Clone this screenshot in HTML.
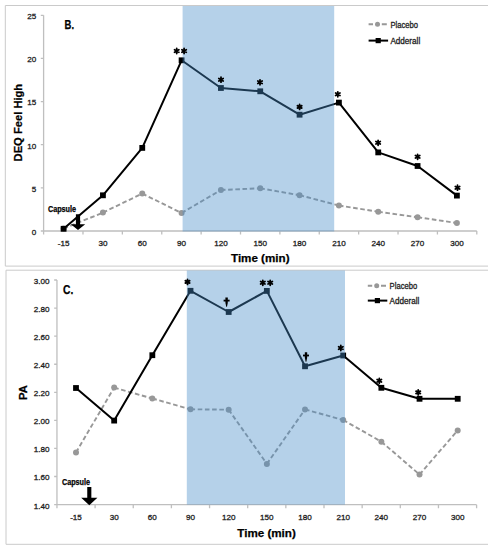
<!DOCTYPE html>
<html><head><meta charset="utf-8"><style>
html,body{margin:0;padding:0;background:#fff;}
svg{display:block;}
.t{font-family:"Liberation Sans",sans-serif;font-size:8.1px;fill:#1e1e1e;stroke:#1e1e1e;stroke-width:0.3px;}
.b{font-family:"Liberation Sans",sans-serif;font-weight:bold;fill:#000;stroke:#000;stroke-width:0.25px;}
</style></head><body>
<svg width="493" height="550" viewBox="0 0 493 550">
<rect width="493" height="550" fill="#fff"/>
<path d="M488,5.5L5.3,5.5L5.3,266.1L488,266.1" fill="none" stroke="#cacaca" stroke-width="1"/>
<path d="M43.6,15.3L43.6,231.0M40.80,15.30L43.6,15.30M40.80,58.44L43.6,58.44M40.80,101.58L43.6,101.58M40.80,144.72L43.6,144.72M40.80,187.86L43.6,187.86M40.80,231.00L43.6,231.00M43.6,231.0L476.8,231.0M43.60,231.0L43.60,234.5M82.98,231.0L82.98,234.5M122.36,231.0L122.36,234.5M161.75,231.0L161.75,234.5M201.13,231.0L201.13,234.5M240.51,231.0L240.51,234.5M279.89,231.0L279.89,234.5M319.27,231.0L319.27,234.5M358.65,231.0L358.65,234.5M398.04,231.0L398.04,234.5M437.42,231.0L437.42,234.5M476.80,231.0L476.80,234.5" fill="none" stroke="#bfbfbf" stroke-width="1.3"/>
<text x="36.3" y="19.20" text-anchor="end" class="t">25</text>
<text x="36.3" y="62.34" text-anchor="end" class="t">20</text>
<text x="36.3" y="105.48" text-anchor="end" class="t">15</text>
<text x="36.3" y="148.62" text-anchor="end" class="t">10</text>
<text x="36.3" y="191.76" text-anchor="end" class="t">5</text>
<text x="36.3" y="234.90" text-anchor="end" class="t">0</text>
<text x="63.60" y="246.0" text-anchor="middle" class="t">-15</text>
<text x="102.93" y="246.0" text-anchor="middle" class="t">30</text>
<text x="142.26" y="246.0" text-anchor="middle" class="t">60</text>
<text x="181.59" y="246.0" text-anchor="middle" class="t">90</text>
<text x="220.92" y="246.0" text-anchor="middle" class="t">120</text>
<text x="260.25" y="246.0" text-anchor="middle" class="t">150</text>
<text x="299.58" y="246.0" text-anchor="middle" class="t">180</text>
<text x="338.91" y="246.0" text-anchor="middle" class="t">210</text>
<text x="378.24" y="246.0" text-anchor="middle" class="t">240</text>
<text x="417.57" y="246.0" text-anchor="middle" class="t">270</text>
<text x="456.90" y="246.0" text-anchor="middle" class="t">300</text>
<path d="M63.60,228.60L102.93,212.60M102.93,212.60L142.26,193.60M142.26,193.60L181.59,213.00M181.59,213.00L220.92,190.00M220.92,190.00L260.25,188.30M260.25,188.30L299.58,195.20M299.58,195.20L338.91,205.50M338.91,205.50L378.24,211.70M378.24,211.70L417.57,217.20M417.57,217.20L456.90,223.00" fill="none" stroke="#989898" stroke-width="1.9" stroke-dasharray="4.6,2.6"/>
<circle cx="63.60" cy="228.60" r="3.0" fill="#989898"/>
<circle cx="102.93" cy="212.60" r="3.0" fill="#989898"/>
<circle cx="142.26" cy="193.60" r="3.0" fill="#989898"/>
<circle cx="181.59" cy="213.00" r="3.0" fill="#989898"/>
<circle cx="220.92" cy="190.00" r="3.0" fill="#989898"/>
<circle cx="260.25" cy="188.30" r="3.0" fill="#989898"/>
<circle cx="299.58" cy="195.20" r="3.0" fill="#989898"/>
<circle cx="338.91" cy="205.50" r="3.0" fill="#989898"/>
<circle cx="378.24" cy="211.70" r="3.0" fill="#989898"/>
<circle cx="417.57" cy="217.20" r="3.0" fill="#989898"/>
<circle cx="456.90" cy="223.00" r="3.0" fill="#989898"/>
<polyline points="63.60,228.80 102.93,195.30 142.26,147.90 181.59,60.30 220.92,88.00 260.25,91.30 299.58,114.70 338.91,102.60 378.24,152.40 417.57,166.00 456.90,195.60" fill="none" stroke="#000" stroke-width="2" stroke-linejoin="round"/>
<rect x="60.70" y="225.90" width="5.8" height="5.8" fill="#000"/>
<rect x="100.03" y="192.40" width="5.8" height="5.8" fill="#000"/>
<rect x="139.36" y="145.00" width="5.8" height="5.8" fill="#000"/>
<rect x="178.69" y="57.40" width="5.8" height="5.8" fill="#000"/>
<rect x="218.02" y="85.10" width="5.8" height="5.8" fill="#000"/>
<rect x="257.35" y="88.40" width="5.8" height="5.8" fill="#000"/>
<rect x="296.68" y="111.80" width="5.8" height="5.8" fill="#000"/>
<rect x="336.01" y="99.70" width="5.8" height="5.8" fill="#000"/>
<rect x="375.34" y="149.50" width="5.8" height="5.8" fill="#000"/>
<rect x="414.67" y="163.10" width="5.8" height="5.8" fill="#000"/>
<rect x="454.00" y="192.70" width="5.8" height="5.8" fill="#000"/>
<rect x="182.6" y="6.0" width="151.6" height="225.5" fill="rgba(70,140,200,0.40)"/>
<path d="M176.70,48.50L176.70,53.50M174.53,49.75L178.87,52.25M178.87,49.75L174.53,52.25" stroke="#000" stroke-width="1.8" stroke-linecap="round"/>
<path d="M184.10,48.50L184.10,53.50M181.93,49.75L186.27,52.25M186.27,49.75L181.93,52.25" stroke="#000" stroke-width="1.8" stroke-linecap="round"/>
<path d="M221.00,77.20L221.00,82.20M218.83,78.45L223.17,80.95M223.17,78.45L218.83,80.95" stroke="#000" stroke-width="1.8" stroke-linecap="round"/>
<path d="M260.00,79.80L260.00,84.80M257.83,81.05L262.17,83.55M262.17,81.05L257.83,83.55" stroke="#000" stroke-width="1.8" stroke-linecap="round"/>
<path d="M299.60,104.40L299.60,109.40M297.43,105.65L301.77,108.15M301.77,105.65L297.43,108.15" stroke="#000" stroke-width="1.8" stroke-linecap="round"/>
<path d="M337.80,91.80L337.80,96.80M335.63,93.05L339.97,95.55M339.97,93.05L335.63,95.55" stroke="#000" stroke-width="1.8" stroke-linecap="round"/>
<path d="M378.10,140.30L378.10,145.30M375.93,141.55L380.27,144.05M380.27,141.55L375.93,144.05" stroke="#000" stroke-width="1.8" stroke-linecap="round"/>
<path d="M417.60,154.30L417.60,159.30M415.43,155.55L419.77,158.05M419.77,155.55L415.43,158.05" stroke="#000" stroke-width="1.8" stroke-linecap="round"/>
<path d="M457.50,185.20L457.50,190.20M455.33,186.45L459.67,188.95M459.67,186.45L455.33,188.95" stroke="#000" stroke-width="1.8" stroke-linecap="round"/>
<path d="M75.90,214.2L80.10,214.2L80.10,224.2L85.20,224.2L78.00,230.0L70.80,224.2L75.90,224.2Z" fill="#000"/>
<text x="47.9" y="211.8" class="b" font-size="8.8" textLength="28.2" lengthAdjust="spacingAndGlyphs">Capsule</text>
<text x="64.6" y="28.8" class="b" font-size="12.6" textLength="9.5" lengthAdjust="spacingAndGlyphs">B.</text>
<path d="M368.6,24.2L373.00,24.2M381.80,24.2L386.80,24.2" stroke="#989898" stroke-width="1.9"/>
<circle cx="377.50" cy="24.2" r="2.5" fill="#989898"/>
<path d="M368.6,40.6L388.1,40.6" stroke="#000" stroke-width="2"/>
<rect x="375.60" y="38.00" width="5.2" height="5.2" fill="#000"/>
<text x="390.40" y="27.50" class="t" style="font-size:8.6px" textLength="27.6" lengthAdjust="spacingAndGlyphs">Placebo</text>
<text x="390.40" y="43.90" class="t" style="font-size:8.6px" textLength="29.8" lengthAdjust="spacingAndGlyphs">Adderall</text>
<text x="231.0" y="262.0" class="b" font-size="11.6" textLength="58.5" lengthAdjust="spacingAndGlyphs">Time (min)</text>
<text transform="translate(21.9,122.6) rotate(-90)" x="0" y="0" text-anchor="middle" class="b" font-size="11.8" textLength="77.6" lengthAdjust="spacingAndGlyphs">DEQ Feel High</text>
<path d="M488,270.2L6.0,270.2L6.0,544.3L488,544.3" fill="none" stroke="#cacaca" stroke-width="1"/>
<path d="M56.95,280.0L56.95,504.7M54.15,280.00L56.95,280.00M54.15,308.07L56.95,308.07M54.15,336.15L56.95,336.15M54.15,364.23L56.95,364.23M54.15,392.30L56.95,392.30M54.15,420.38L56.95,420.38M54.15,448.45L56.95,448.45M54.15,476.52L56.95,476.52M54.15,504.60L56.95,504.60M56.95,504.7L476.6,504.7M56.95,504.7L56.95,508.2M95.10,504.7L95.10,508.2M133.25,504.7L133.25,508.2M171.40,504.7L171.40,508.2M209.55,504.7L209.55,508.2M247.70,504.7L247.70,508.2M285.85,504.7L285.85,508.2M324.00,504.7L324.00,508.2M362.15,504.7L362.15,508.2M400.30,504.7L400.30,508.2M438.45,504.7L438.45,508.2M476.60,504.7L476.60,508.2" fill="none" stroke="#bfbfbf" stroke-width="1.3"/>
<text x="49.4" y="283.90" text-anchor="end" class="t">3.00</text>
<text x="49.4" y="311.97" text-anchor="end" class="t">2.80</text>
<text x="49.4" y="340.05" text-anchor="end" class="t">2.60</text>
<text x="49.4" y="368.12" text-anchor="end" class="t">2.40</text>
<text x="49.4" y="396.20" text-anchor="end" class="t">2.20</text>
<text x="49.4" y="424.27" text-anchor="end" class="t">2.00</text>
<text x="49.4" y="452.35" text-anchor="end" class="t">1.80</text>
<text x="49.4" y="480.42" text-anchor="end" class="t">1.60</text>
<text x="49.4" y="508.50" text-anchor="end" class="t">1.40</text>
<text x="76.00" y="519.8" text-anchor="middle" class="t">-15</text>
<text x="114.17" y="519.8" text-anchor="middle" class="t">30</text>
<text x="152.34" y="519.8" text-anchor="middle" class="t">60</text>
<text x="190.51" y="519.8" text-anchor="middle" class="t">90</text>
<text x="228.68" y="519.8" text-anchor="middle" class="t">120</text>
<text x="266.85" y="519.8" text-anchor="middle" class="t">150</text>
<text x="305.02" y="519.8" text-anchor="middle" class="t">180</text>
<text x="343.19" y="519.8" text-anchor="middle" class="t">210</text>
<text x="381.36" y="519.8" text-anchor="middle" class="t">240</text>
<text x="419.53" y="519.8" text-anchor="middle" class="t">270</text>
<text x="457.70" y="519.8" text-anchor="middle" class="t">300</text>
<path d="M76.00,452.40L114.17,387.60M114.17,387.60L152.34,398.50M152.34,398.50L190.51,409.30M190.51,409.30L228.68,409.70M228.68,409.70L266.85,463.90M266.85,463.90L305.02,409.40M305.02,409.40L343.19,420.00M343.19,420.00L381.36,441.70M381.36,441.70L419.53,474.50M419.53,474.50L457.70,430.40" fill="none" stroke="#989898" stroke-width="1.9" stroke-dasharray="4.6,2.6"/>
<circle cx="76.00" cy="452.40" r="3.0" fill="#989898"/>
<circle cx="114.17" cy="387.60" r="3.0" fill="#989898"/>
<circle cx="152.34" cy="398.50" r="3.0" fill="#989898"/>
<circle cx="190.51" cy="409.30" r="3.0" fill="#989898"/>
<circle cx="228.68" cy="409.70" r="3.0" fill="#989898"/>
<circle cx="266.85" cy="463.90" r="3.0" fill="#989898"/>
<circle cx="305.02" cy="409.40" r="3.0" fill="#989898"/>
<circle cx="343.19" cy="420.00" r="3.0" fill="#989898"/>
<circle cx="381.36" cy="441.70" r="3.0" fill="#989898"/>
<circle cx="419.53" cy="474.50" r="3.0" fill="#989898"/>
<circle cx="457.70" cy="430.40" r="3.0" fill="#989898"/>
<polyline points="76.00,388.00 114.17,420.60 152.34,355.20 190.51,290.80 228.68,312.00 266.85,290.90 305.02,366.30 343.19,355.50 381.36,387.80 419.53,398.80 457.70,398.80" fill="none" stroke="#000" stroke-width="2" stroke-linejoin="round"/>
<rect x="73.10" y="385.10" width="5.8" height="5.8" fill="#000"/>
<rect x="111.27" y="417.70" width="5.8" height="5.8" fill="#000"/>
<rect x="149.44" y="352.30" width="5.8" height="5.8" fill="#000"/>
<rect x="187.61" y="287.90" width="5.8" height="5.8" fill="#000"/>
<rect x="225.78" y="309.10" width="5.8" height="5.8" fill="#000"/>
<rect x="263.95" y="288.00" width="5.8" height="5.8" fill="#000"/>
<rect x="302.12" y="363.40" width="5.8" height="5.8" fill="#000"/>
<rect x="340.29" y="352.60" width="5.8" height="5.8" fill="#000"/>
<rect x="378.46" y="384.90" width="5.8" height="5.8" fill="#000"/>
<rect x="416.63" y="395.90" width="5.8" height="5.8" fill="#000"/>
<rect x="454.80" y="395.90" width="5.8" height="5.8" fill="#000"/>
<rect x="186.8" y="270.5" width="158.2" height="234.10000000000002" fill="rgba(70,140,200,0.40)"/>
<path d="M187.50,279.40L187.50,284.40M185.33,280.65L189.67,283.15M189.67,280.65L185.33,283.15" stroke="#000" stroke-width="1.8" stroke-linecap="round"/>
<path d="M225.40,297.40L227.80,297.40L227.75,302.90L226.95,306.80L226.25,306.80L225.45,302.90Z" fill="#000"/><rect x="223.60" y="299.70" width="6" height="1.8" fill="#000"/>
<path d="M262.80,280.30L262.80,285.30M260.63,281.55L264.97,284.05M264.97,281.55L260.63,284.05" stroke="#000" stroke-width="1.8" stroke-linecap="round"/>
<path d="M270.20,280.30L270.20,285.30M268.03,281.55L272.37,284.05M272.37,281.55L268.03,284.05" stroke="#000" stroke-width="1.8" stroke-linecap="round"/>
<path d="M304.80,352.30L307.20,352.30L307.15,357.80L306.35,361.70L305.65,361.70L304.85,357.80Z" fill="#000"/><rect x="303.00" y="354.60" width="6" height="1.8" fill="#000"/>
<path d="M340.80,345.50L340.80,350.50M338.63,346.75L342.97,349.25M342.97,346.75L338.63,349.25" stroke="#000" stroke-width="1.8" stroke-linecap="round"/>
<path d="M379.30,378.30L379.30,383.30M377.13,379.55L381.47,382.05M381.47,379.55L377.13,382.05" stroke="#000" stroke-width="1.8" stroke-linecap="round"/>
<path d="M418.20,389.90L418.20,394.90M416.03,391.15L420.37,393.65M420.37,391.15L416.03,393.65" stroke="#000" stroke-width="1.8" stroke-linecap="round"/>
<path d="M87.25,487.0L91.35,487.0L91.35,497.8L97.40,497.8L89.30,505.2L81.20,497.8L87.25,497.8Z" fill="#000"/>
<text x="61.9" y="485.4" class="b" font-size="8.8" textLength="28.2" lengthAdjust="spacingAndGlyphs">Capsule</text>
<text x="63.0" y="294.0" class="b" font-size="12.6" textLength="10.3" lengthAdjust="spacingAndGlyphs">C.</text>
<path d="M367.8,285.7L372.20,285.7M381.00,285.7L386.00,285.7" stroke="#989898" stroke-width="1.9"/>
<circle cx="376.70" cy="285.7" r="2.5" fill="#989898"/>
<path d="M367.8,300.6L387.3,300.6" stroke="#000" stroke-width="2"/>
<rect x="374.80" y="298.00" width="5.2" height="5.2" fill="#000"/>
<text x="389.60" y="289.00" class="t" style="font-size:8.6px" textLength="27.6" lengthAdjust="spacingAndGlyphs">Placebo</text>
<text x="389.60" y="303.90" class="t" style="font-size:8.6px" textLength="29.8" lengthAdjust="spacingAndGlyphs">Adderall</text>
<text x="237.3" y="537.3" class="b" font-size="11.6" textLength="58.5" lengthAdjust="spacingAndGlyphs">Time (min)</text>
<text transform="translate(27.0,392.6) rotate(-90)" x="0" y="0" text-anchor="middle" class="b" font-size="11.8" textLength="14.8" lengthAdjust="spacingAndGlyphs">PA</text>
</svg>
</body></html>
